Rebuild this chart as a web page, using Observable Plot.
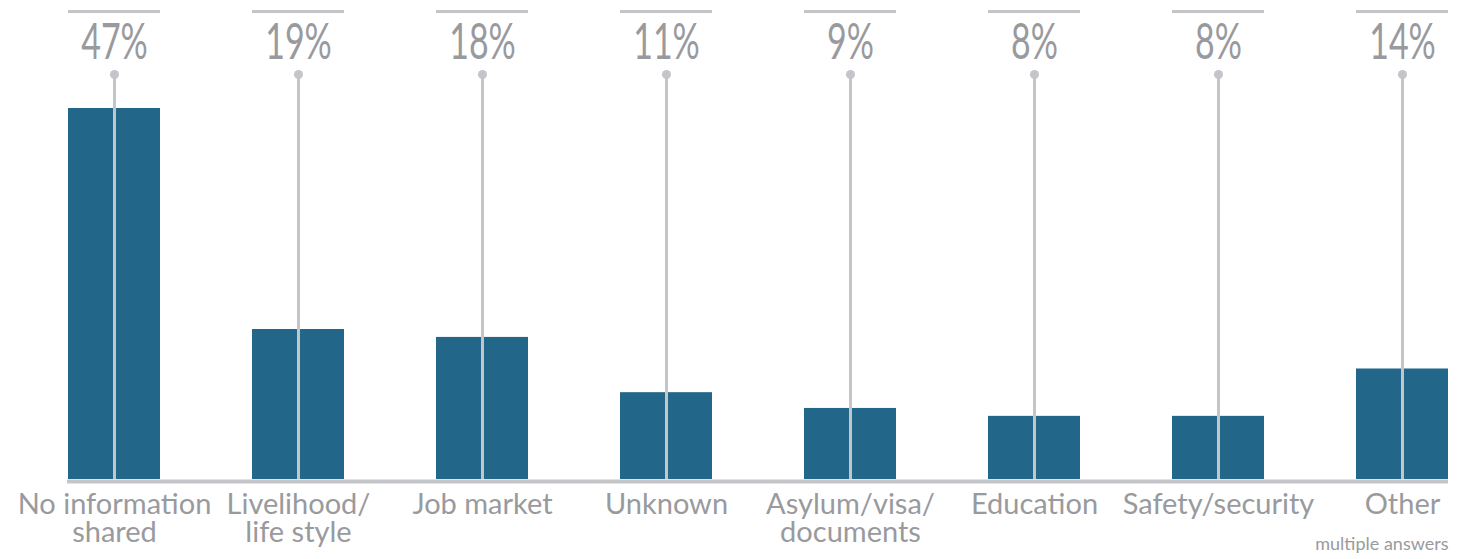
<!DOCTYPE html>
<html>
<head>
<meta charset="utf-8">
<script src="https://cdn.jsdelivr.net/npm/d3@7"></script>
<script src="https://cdn.jsdelivr.net/npm/@observablehq/plot@0.6"></script>
<style>
  html, body { margin: 0; padding: 0; background: #fff; }
  svg { display: block; }
</style>
</head>
<body>
<div id="chart"></div>
<script>
const categories = ["No information shared", "Livelihood/ life style", "Job market", "Unknown", "Asylum/visa/ documents", "Education", "Safety/security", "Other"];
const labels = ["No information\nshared", "Livelihood/\nlife style", "Job market", "Unknown", "Asylum/visa/\ndocuments", "Education", "Safety/security", "Other"];
const values = [47, 19, 18, 11, 9, 8, 8, 14];
const caption = "multiple answers";

const data = categories.map((c, i) => ({cat: c, label: labels[i], value: values[i]}));
const maxV = d3.max(values);

const gray = "#c4c5c9";
const textGray = "#999a9e";
const barColor = "#22668a";

const chart = Plot.plot({
  width: 1461,
  height: 559,
  marginLeft: 67,
  marginRight: 13,
  marginTop: 108,
  marginBottom: 80,
  x: {domain: categories, paddingInner: 0.5, paddingOuter: 0, axis: null},
  y: {domain: [0, maxV], axis: null},
  marks: [
    Plot.barY(data, {x: "cat", y: "value", fill: barColor}),
    Plot.ruleX(data, {x: "cat", y1: () => maxV, y2: 0, stroke: gray, strokeWidth: 3, insetTop: -34}),
    Plot.dot(data, {x: "cat", frameAnchor: "top", dy: -34, r: 4.5, fill: gray, stroke: "none"}),
    Plot.ruleY([0], {stroke: gray, strokeWidth: 4, dy: 2}),
    Plot.tickY(data, {x: "cat", y: () => maxV, dy: -97, stroke: gray, strokeWidth: 3}),
    Plot.text(data, {x: "cat", text: d => d.value + "%", frameAnchor: "top", lineAnchor: "middle", dy: -66,
      fontSize: 50, fill: textGray, fontFamily: "Lato, 'DejaVu Sans', sans-serif",
      className: "pct"}),
    Plot.text(data, {x: "cat", text: "label", frameAnchor: "bottom", dy: 15, lineAnchor: "top",
      fontSize: 29, lineHeight: 0.95, fill: textGray, fontFamily: "Lato, 'Open Sans', sans-serif"}),
    Plot.text([caption], {frameAnchor: "bottom-right", dy: 70, textAnchor: "end",
      fontSize: 18, fill: textGray, fontFamily: "Lato, 'Open Sans', sans-serif"})
  ]
});
document.getElementById("chart").appendChild(chart);
// condense the percentage labels horizontally (they are set in a condensed face in the reference)
d3.select(chart).selectAll("g.pct text").attr("transform", function() {
  return (this.getAttribute("transform") || "") + " scale(0.68,1)";
});
</script>
</body>
</html>
